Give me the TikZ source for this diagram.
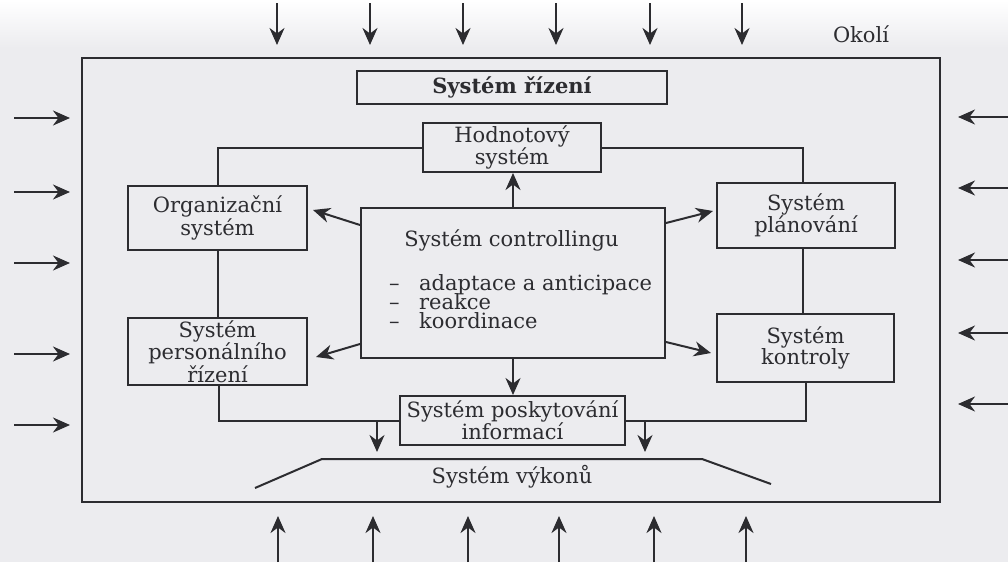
\documentclass[tikz,border=0pt]{standalone}
\usepackage{fontspec}
\setmainfont{DejaVu Serif}
\usetikzlibrary{arrows.meta,calc}
\definecolor{ink}{RGB}{44,44,48}
\definecolor{paper}{RGB}{236,236,239}

\begin{document}
\begin{tikzpicture}[x=1pt,y=-1pt,
  txt/.style={text=ink,font=\fontsize{21}{20}\selectfont},
  line/.style={draw=ink,line width=2pt},
  arr/.style={line,-{Stealth[length=17pt,width=15pt,inset=5.5pt]}},
  box/.style={line,txt,inner sep=0pt,align=center},
  lbl/.style={txt,inner sep=0pt}]

% paper
\fill[paper] (0,0) rectangle (1008,562);
\shade[top color=white,bottom color=paper] (0,0) rectangle (1008,48);
\useasboundingbox (0,0) rectangle (1008,562);

% system boundary
\coordinate (envNW) at (82,58);
\coordinate (envSE) at (940,502);
\draw[line] (envNW) rectangle (envSE);
\node[lbl,anchor=base] (okoli) at (861,42) {Okolí};

% inputs from the environment
\foreach \x [count=\i] in {277,370,463,556,650,742}{
  \coordinate (top\i) at (\x,3);
  \draw[arr,shorten >=13pt] (top\i) -- (top\i |- envNW);
}
\foreach \x [count=\i] in {278,373,468,559,654,746}{
  \coordinate (bot\i) at (\x,562);
  \draw[arr,shorten >=14pt] (bot\i) -- (bot\i |- envSE);
}
\foreach \y [count=\i] in {118,192,263,354,425}{
  \coordinate (lft\i) at (14,\y);
  \draw[arr,shorten >=12pt] (lft\i) -- (lft\i -| envNW);
}
\foreach \y [count=\i] in {117,188,260,333,404}{
  \coordinate (rgt\i) at (1008,\y);
  \draw[arr,shorten >=18pt] (rgt\i) -- (rgt\i -| envSE);
}

% subsystems
\node[box,minimum width=310pt,minimum height=33pt,font=\bfseries\fontsize{21}{20}\selectfont] (riz) at (512,87.5) {Systém řízení};
\node[box,minimum width=178pt,minimum height=49pt] (hod) at (512,147.5) {Hodnotový\\systém};
\node[box,minimum width=179pt,minimum height=64pt] (org) at (217.5,218) {Organizační\\systém};
\node[box,minimum width=179pt,minimum height=67pt] (pers) at (217.5,351.5) {Systém\\personálního\\řízení};
\node[box,minimum width=178pt,minimum height=65pt] (plan) at (806,215.5) {Systém\\plánování};
\node[box,minimum width=177pt,minimum height=68pt] (kon) at (805.5,348) {Systém\\kontroly};
\node[box,minimum width=225pt,minimum height=49pt] (pos) at (512.5,420.5) {Systém poskytování\\informací};
\node[box,minimum width=304pt,minimum height=150pt] (ctrl) at (513,283) {};

% controlling box contents
\node[lbl,anchor=base] (ctrlT) at (511.5,246) {Systém controllingu};
\node[lbl,anchor=base west] (d1) at (389,290) {–};
\node[lbl,anchor=base west] (d2) at (389,309) {–};
\node[lbl,anchor=base west] (d3) at (389,328) {–};
\node[lbl,anchor=base west] (f1) at (419,290) {adaptace a anticipace};
\node[lbl,anchor=base west] (f2) at (419,309) {reakce};
\node[lbl,anchor=base west] (f3) at (419,328) {koordinace};

% performance system
\coordinate (vL) at (255,488);
\coordinate (vTL) at (322,459);
\coordinate (vTR) at (702,459);
\coordinate (vR) at (771,484);
\draw[line] (vL) -- (vTL) -- (vTR) -- (vR);
\node[lbl,anchor=base] (vyk) at (512,483) {Systém výkonů};

% links between subsystems
\coordinate (planN) at ([xshift=-3pt]plan.north);
\coordinate (planS) at ([xshift=-3pt]plan.south);
\coordinate (persS) at ([xshift=1.5pt]pers.south);
\draw[line] (hod.west) -| (org.north);
\draw[line] (hod.east) -| (planN);
\draw[line] (org.south) -- (pers.north);
\draw[line] (planS) -- (planS |- kon.north);
\draw[line] (persS) |- (pos.west);
\draw[line] (pos.east) -| (kon.south);

% information flows into performance
\coordinate (iL) at (377,421);
\coordinate (iR) at (645,421);
\draw[arr,shorten >=7pt] (iL) -- (iL |- vTL);
\draw[arr,shorten >=7pt] (iR) -- (iR |- vTR);

% controlling outputs
\draw[arr] (ctrl.north) -- (ctrl.north |- hod.south);
\draw[arr] (ctrl.south) -- (ctrl.south |- pos.north);
\draw[arr] ([yshift=-18pt]ctrl.north west) -- ([xshift=5pt,yshift=-25pt]org.north east);
\draw[arr] ([yshift=-16pt]ctrl.north east) -- ([xshift=-3pt,yshift=-29pt]plan.north west);
\draw[arr] ([yshift=15pt]ctrl.south west) -- ([xshift=8pt,yshift=-40pt]pers.north east);
\draw[arr] ([yshift=17pt]ctrl.south east) -- ([xshift=-5pt,yshift=-40pt]kon.north west);
\end{tikzpicture}
\end{document}
